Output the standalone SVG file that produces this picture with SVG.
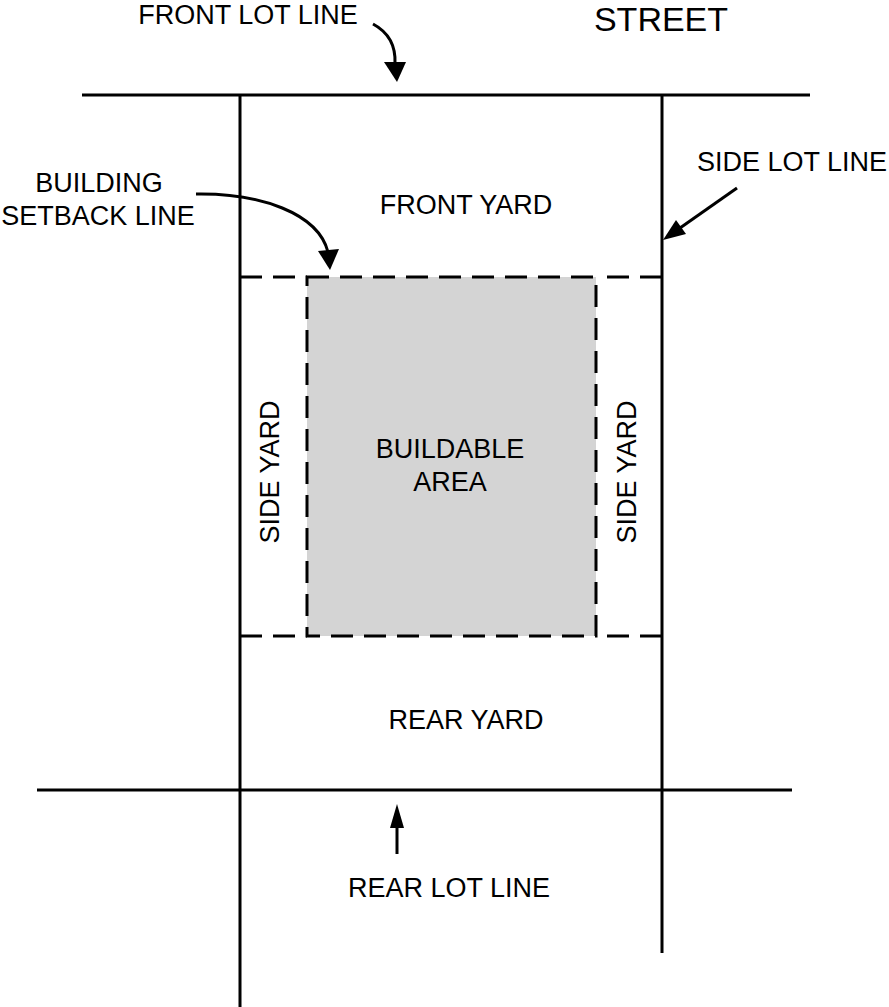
<svg xmlns="http://www.w3.org/2000/svg" width="889" height="1007" viewBox="0 0 889 1007">
<style>
text{font-family:"Liberation Sans",Arial,sans-serif;fill:#000;font-size:27px;text-anchor:middle}
.lot{stroke:#000;stroke-width:3;fill:none}
.dash{stroke:#000;stroke-width:3;fill:none;stroke-dasharray:22 11}
.area{fill:#d4d4d4;stroke:#000;stroke-width:3;stroke-dasharray:22 11}
.arr{stroke:#000;stroke-width:3;fill:none}
.head{fill:#000;stroke:none}
</style>
<rect width="889" height="1007" fill="#fff"/>
<g id="lot-lines">
<line class="lot" x1="82" y1="95" x2="810" y2="95"/>
<line class="lot" x1="240" y1="95" x2="240" y2="1007"/>
<line class="lot" x1="662" y1="95" x2="662" y2="953"/>
<line class="lot" x1="37" y1="790" x2="792" y2="790"/>
</g>
<g id="setback-lines">
<line class="dash" x1="240" y1="277" x2="307" y2="277"/>
<line class="dash" x1="662" y1="277" x2="596" y2="277"/>
<line class="dash" x1="240" y1="636" x2="307" y2="636"/>
<line class="dash" x1="662" y1="636" x2="596" y2="636"/>
</g>
<g id="buildable-area">
<rect x="307" y="277" width="289" height="359" class="area"/>
<text x="450" y="458">BUILDABLE</text>
<text x="450" y="491">AREA</text>
</g>
<g id="street"><text x="661" y="31" style="font-size:34px">STREET</text></g>
<g id="front-lot-line-label"><text x="248" y="24">FRONT LOT LINE</text></g>
<g id="side-lot-line-label"><text x="792" y="171">SIDE LOT LINE</text></g>
<g id="setback-label"><text x="99" y="192">BUILDING</text><text x="98" y="225">SETBACK LINE</text></g>
<g id="front-yard"><text x="466" y="214">FRONT YARD</text></g>
<g id="side-yard-left"><text transform="translate(279,472) rotate(-90)">SIDE YARD</text></g>
<g id="side-yard-right"><text transform="translate(636,472) rotate(-90)">SIDE YARD</text></g>
<g id="rear-yard"><text x="466" y="729">REAR YARD</text></g>
<g id="rear-lot-line-label"><text x="449" y="897">REAR LOT LINE</text></g>
<g id="connectors">
<path class="arr" d="M373,24 C388,32 396,45 395,64"/>
<polygon class="head" points="384,62 406,62 397,82"/>
<path class="arr" d="M196,194 C260,193 318,213 328,252"/>
<polygon class="head" points="318,251 339,249 330,270"/>
<line class="arr" x1="737" y1="188" x2="680" y2="228"/>
<polygon class="head" points="663,240 686,234 676,220"/>
<line class="arr" x1="397" y1="826" x2="397" y2="854"/>
<polygon class="head" points="397,804 390,828 404,828"/>
</g>
</svg>
